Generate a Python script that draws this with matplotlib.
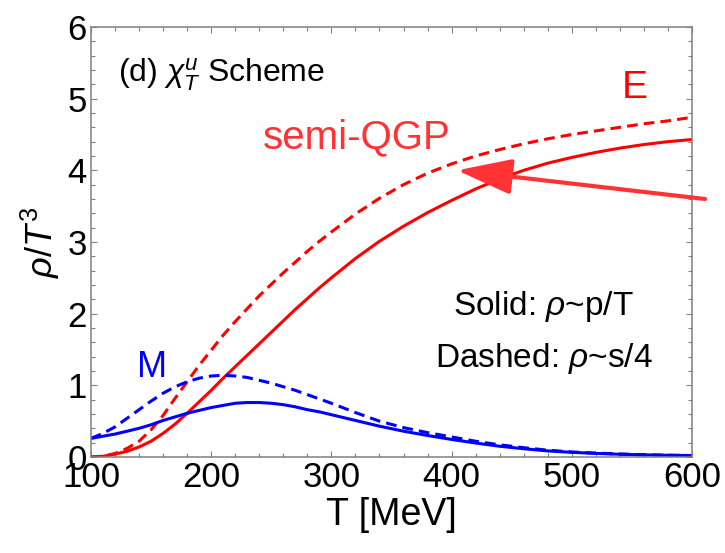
import matplotlib
matplotlib.use("Agg")
import matplotlib.pyplot as plt
from matplotlib.ticker import MultipleLocator

plt.rcParams['font.family'] = ['Liberation Sans', 'DejaVu Sans']
plt.rcParams['mathtext.fontset'] = 'custom'
plt.rcParams['mathtext.rm'] = 'Liberation Sans'
plt.rcParams['mathtext.it'] = 'Liberation Sans:italic'

# temperature grid [MeV] (finer where the curves bend most)
T = [100, 110, 120, 130, 140, 150, 160, 170, 180, 190, 200, 210, 220, 230, 240,
     250, 260, 270, 280, 290, 300, 320, 340, 360, 380, 400, 420, 440, 460, 480,
     500, 520, 540, 560, 580, 600]

# E (semi-QGP), solid: rho ~ p/T, dashed: rho ~ s/4
E_solid = [0.00, 0.01, 0.04, 0.08, 0.14, 0.22, 0.33, 0.46, 0.61, 0.77, 0.93, 1.10, 1.26, 1.42, 1.58,
           1.74, 1.90, 2.06, 2.21, 2.36, 2.50, 2.77, 3.01, 3.22, 3.41, 3.58, 3.74, 3.88, 4.00, 4.10,
           4.18, 4.25, 4.31, 4.36, 4.40, 4.43]
E_dashed = [0.00, 0.01, 0.05, 0.12, 0.22, 0.38, 0.58, 0.82, 1.05, 1.28, 1.49, 1.70, 1.89, 2.07, 2.25,
            2.41, 2.57, 2.72, 2.87, 3.01, 3.14, 3.39, 3.61, 3.80, 3.96, 4.09, 4.20, 4.29, 4.37, 4.44,
            4.50, 4.55, 4.60, 4.65, 4.69, 4.74]

# M
M_solid = [0.26, 0.29, 0.32, 0.36, 0.40, 0.45, 0.51, 0.56, 0.61, 0.65, 0.69, 0.72, 0.75, 0.76, 0.76,
           0.75, 0.73, 0.70, 0.66, 0.63, 0.59, 0.51, 0.43, 0.36, 0.30, 0.245, 0.195, 0.15, 0.115, 0.085,
           0.065, 0.05, 0.038, 0.03, 0.024, 0.02]
M_dashed = [0.26, 0.33, 0.42, 0.54, 0.66, 0.78, 0.89, 0.98, 1.05, 1.10, 1.13, 1.14, 1.13, 1.11, 1.07,
            1.03, 0.98, 0.93, 0.87, 0.81, 0.75, 0.62, 0.50, 0.41, 0.34, 0.28, 0.22, 0.17, 0.13, 0.095,
            0.07, 0.055, 0.042, 0.032, 0.025, 0.02]

RED = '#ff0000'
BLUE = '#0000ff'
LIGHTRED = '#ff3333'
GRAY = '#808080'

fig = plt.figure(figsize=(7.25, 5.53), dpi=100)
ax = fig.add_axes([0.1255, 0.1736, 0.829, 0.7776])

lw = 2.2
ax.plot(T, E_solid, color=RED, lw=lw)
ax.plot(T, E_dashed, color=RED, lw=lw, dashes=(3.5, 2))
ax.plot(T, M_solid, color=BLUE, lw=lw)
ax.plot(T, M_dashed, color=BLUE, lw=lw, dashes=(3.5, 2))

ax.set_xlim(100, 600)
ax.set_ylim(0, 6)
ax.xaxis.set_major_locator(MultipleLocator(100))
ax.xaxis.set_minor_locator(MultipleLocator(20))
ax.yaxis.set_major_locator(MultipleLocator(1))
ax.yaxis.set_minor_locator(MultipleLocator(0.2))

for s in ax.spines.values():
    s.set_color(GRAY)
    s.set_linewidth(1.1)
ax.tick_params(which='both', direction='in', top=True, right=True, color=GRAY,
               labelsize=25, width=0.8)
ax.tick_params(which='major', length=4, pad=3)
ax.tick_params(which='minor', length=3)

ax.set_xlabel('T [MeV]', fontsize=27, labelpad=2)
ax.set_ylabel(r'$\rho/T^3$', fontsize=26, labelpad=4)

ax.text(122.5, 5.22, r'(d) $\chi_T^u$ Scheme', fontsize=23, va='baseline')
ax.text(243, 4.30, 'semi-QGP', fontsize=29, color=LIGHTRED, va='baseline')
ax.text(541.8, 5.01, 'E', fontsize=28, color=RED, va='baseline')
ax.text(138.3, 1.12, 'M', fontsize=26, color=BLUE, va='baseline')
ax.text(401, 1.98, r'Solid: $\rho$~p/T', fontsize=24, va='baseline')
ax.text(386, 1.255, r'Dashed: $\rho$~s/4', fontsize=24, va='baseline')

ax.annotate('', xy=(404.5, 4.00), xytext=(610.8, 3.60), annotation_clip=False,
            arrowprops=dict(arrowstyle='-|>,head_length=34,head_width=11',
                            mutation_scale=1, lw=3, color=LIGHTRED,
                            shrinkA=0, shrinkB=0))

fig.savefig('out.png', dpi=100)
